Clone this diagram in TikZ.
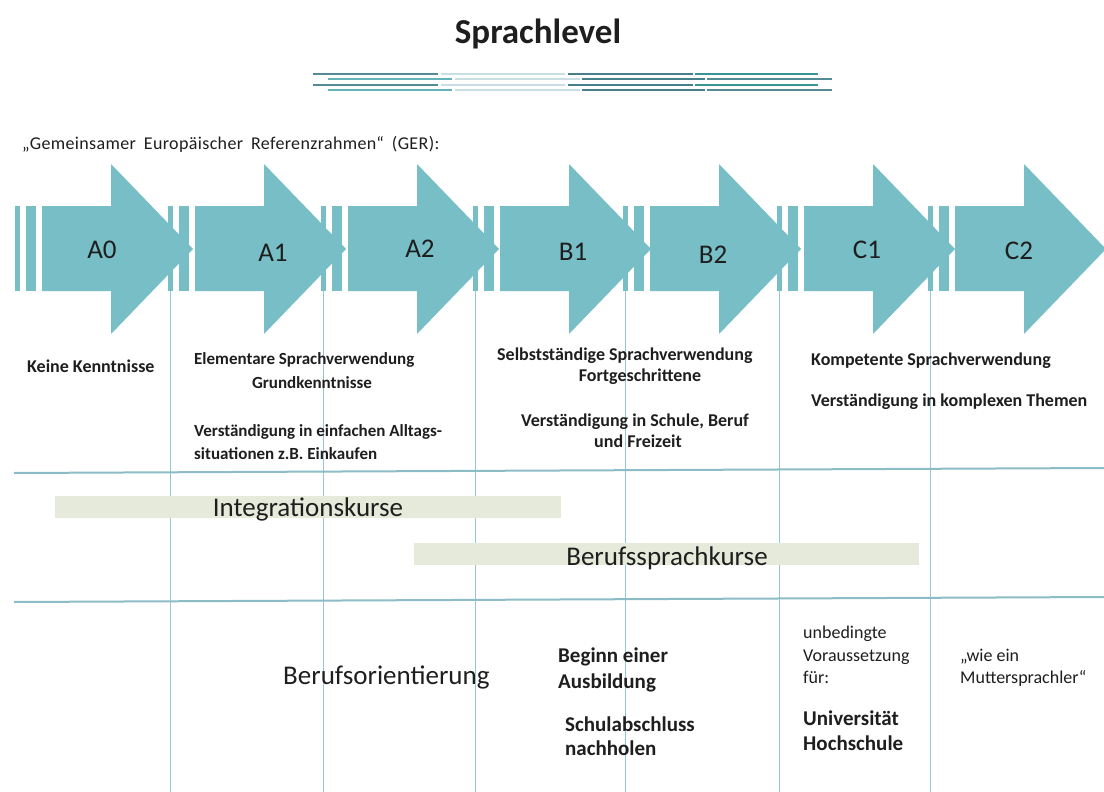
\documentclass[tikz,border=0pt]{standalone}
\usepackage{fontspec}
\setmainfont{Carlito}
\newfontfamily\gerfont[LetterSpace=2,WordSpace=1.8]{Carlito}
\definecolor{arrowc}{RGB}{120,190,198}
\definecolor{gridc}{RGB}{150,198,206}
\definecolor{hgridc}{RGB}{140,188,198}
\definecolor{barc}{RGB}{230,234,218}
\definecolor{txt}{RGB}{30,30,30}
\definecolor{decoA}{RGB}{84,140,150}
\definecolor{decoB}{RGB}{100,178,188}
\definecolor{decoL}{RGB}{200,224,228}
\definecolor{decoC}{RGB}{70,128,138}
\definecolor{decoD}{RGB}{55,150,145}
\tikzset{
  arr/.style={fill=arrowc},
  vline/.style={draw=gridc, line width=1.8pt},
  hline/.style={draw=hgridc, line width=2pt},
  barfill/.style={fill=barc},
  deco/.style={line width=2.8pt},
  lvl/.style={font=\fontsize{27}{30}\selectfont, text=txt, inner sep=0pt},
  tb/.style={font=\fontsize{18}{22}\selectfont\bfseries, text=txt, inner sep=0pt, anchor=base west},
  tbs/.style={font=\fontsize{17}{21}\selectfont\bfseries, text=txt, inner sep=0pt, anchor=base west},
  tbig/.style={font=\fontsize{21}{25}\selectfont\bfseries, text=txt, inner sep=0pt, anchor=base west},
  tn/.style={font=\fontsize{18}{22}\selectfont, text=txt, inner sep=0pt, anchor=base west},
  tlarge/.style={font=\fontsize{27}{30}\selectfont, text=txt, inner sep=0pt, anchor=base},
}
\begin{document}
\begin{tikzpicture}[x=1pt,y=-1pt]
\useasboundingbox (0,0) rectangle (1104,792);
\fill[white] (0,0) rectangle (1104,792);

% title
\node[font=\fontsize{35}{40}\selectfont\bfseries, text=txt, inner sep=0pt, anchor=base] (title) at (538,44) {Sprachlevel};

% decoration under title
\draw[deco, decoA] (313,74) -- (438,74);
\draw[deco, decoB] (328,79) -- (452,79);
\draw[deco, decoA] (313,85) -- (438,85);
\draw[deco, decoB] (328,90) -- (452,90);
\draw[deco, decoL] (441,74) -- (565,74);
\draw[deco, decoL] (455,79) -- (580,79);
\draw[deco, decoL] (441,85) -- (565,85);
\draw[deco, decoL] (455,90) -- (580,90);
\draw[deco, decoC] (568,74) -- (693,74);
\draw[deco, decoC] (582,79) -- (705,79);
\draw[deco, decoC] (568,85) -- (693,85);
\draw[deco, decoC] (582,90) -- (705,90);
\draw[deco, decoD] (695,74) -- (818,74);
\draw[deco, decoA] (707,79) -- (832,79);
\draw[deco, decoD] (695,85) -- (818,85);
\draw[deco, decoA] (707,90) -- (832,90);

% GER line
\node[font=\fontsize{18}{22}\selectfont\gerfont, text=txt, inner sep=0pt, anchor=base west] (ger) at (22,149) {„Gemeinsamer Europäischer Referenzrahmen“ (GER):};

% grid lines
\foreach \s in {168,321,473,623,777,928}{
  \draw[vline] (\s+2.5,291) -- (\s+2.5,792);
}
\draw[hline] (14,473) -- (1104,468);
\draw[hline] (14,602) -- (1104,597);

% arrows
\foreach \s/\lab/\lx/\ly/\nm in {15/A0/102/250/a0, 168/A1/273/253/a1, 321/A2/420/249/a2, 473/B1/573/252/b1, 623/B2/713/255/b2, 777/C1/867/250/c1, 928/C2/1019/251/c2}{
  \fill[arr] (\s,206) rectangle (\s+5,291);
  \fill[arr] (\s+11,206) rectangle (\s+21,291);
  \fill[arr] (\s+27,206) -- (\s+96,206) -- (\s+96,164) -- (\s+178,249) -- (\s+96,334) -- (\s+96,291) -- (\s+27,291) -- cycle;
  \node[lvl] (\nm) at (\lx,\ly) {\lab};
}

% level descriptions
\node[tb] (keine) at (27,372) {Keine Kenntnisse};
\node[tbs] (elem) at (194,364) {Elementare Sprachverwendung};
\node[tbs, anchor=base] (grund) at (312,388) {Grundkenntnisse};
\node[tbs] (verst1) at (194,436) {Verständigung in einfachen Alltags-};
\node[tbs] (verst2) at (194,459) {situationen z.B. Einkaufen};

\node[tb] (selb) at (497,360) {Selbstständige Sprachverwendung};
\node[tb, anchor=base] (fort) at (640,381) {Fortgeschrittene};
\node[tb] (verst3) at (521,426) {Verständigung in Schule, Beruf};
\node[tb, anchor=base] (frei) at (638,447) {und Freizeit};

\node[tb] (komp) at (811,365) {Kompetente Sprachverwendung};
\node[tb] (verst4) at (811,406) {Verständigung in komplexen Themen};

% course bars
\fill[barfill] (55,496) rectangle (561,518);
\fill[barfill] (414,543) rectangle (919,565);
\node[tlarge] (integ) at (308,516) {Integrationskurse};
\node[tlarge] (beruf) at (667,565) {Berufssprachkurse};

% bottom row
\node[tlarge, anchor=base west] (orient) at (283,684) {Berufsorientierung};
\node[tbig] (beginn) at (558,662) {Beginn einer};
\node[tbig] (ausb) at (558,688) {Ausbildung};
\node[tbig] (schul) at (565,731) {Schulabschluss};
\node[tbig] (nach) at (565,755) {nachholen};

\node[tn] (unbed) at (803,638) {unbedingte};
\node[tn] (vorau) at (803,661) {Voraussetzung};
\node[tn] (fuer) at (803,683) {für:};
\node[tbig] (uni) at (803,725) {Universität};
\node[tbig] (hoch) at (803,750) {Hochschule};

\node[tn] (wie) at (960,661) {„wie ein};
\node[tn] (mutter) at (960,683) {Muttersprachler“};
\end{tikzpicture}
\end{document}
